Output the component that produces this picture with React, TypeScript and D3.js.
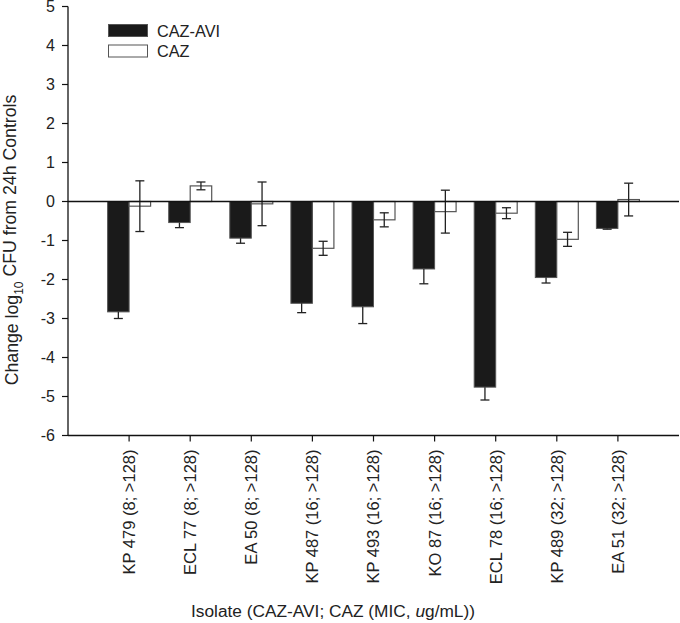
import React from "react";
import * as d3 from "d3";

const categories = [
  "KP 479 (8; >128)",
  "ECL 77 (8; >128)",
  "EA 50 (8; >128)",
  "KP 487 (16; >128)",
  "KP 493 (16; >128)",
  "KO 87 (16; >128)",
  "ECL 78 (16; >128)",
  "KP 489 (32; >128)",
  "EA 51 (32; >128)",
];
const cazAvi = [-2.83, -0.54, -0.94, -2.61, -2.7, -1.73, -4.76, -1.95, -0.69];
const cazAviErr = [0.17, 0.13, 0.13, 0.24, 0.43, 0.38, 0.33, 0.14, 0.02];
const caz = [-0.12, 0.4, -0.06, -1.2, -0.47, -0.26, -0.3, -0.97, 0.05];
const cazErr = [0.65, 0.1, 0.56, 0.18, 0.18, 0.55, 0.14, 0.18, 0.42];
const yTicks = [5, 4, 3, 2, 1, 0, -1, -2, -3, -4, -5, -6];

const W = 680;
const H = 623;
const left = 68;
const right = 679;
const top = 6.5;
const bottom = 435.5;
const font = "'Liberation Sans', Arial, sans-serif";

export default function App() {
  const y = d3.scaleLinear().domain([-6, 5]).range([bottom, top]);
  const x = d3.scaleLinear().domain([0, categories.length + 1]).range([left, right]);
  const bw = 21.5;
  const cap = 4.5;
  const ink = "#222";

  return (
    <svg
      width={W}
      height={H}
      style={{ position: "absolute", left: 0, top: 0, background: "#fff" }}
      fontFamily={font}
    >
      {/* bars */}
      {categories.map((c, i) => {
        const cx = x(i + 1);
        const v1 = cazAvi[i];
        const v2 = caz[i];
        const y0 = y(0);
        const e1 = v1 < 0 ? v1 - cazAviErr[i] : v1 + cazAviErr[i];
        return (
          <g key={c}>
            <rect
              x={cx - bw}
              y={Math.min(y0, y(v1))}
              width={bw}
              height={Math.abs(y(v1) - y0)}
              fill="#1a1a1a"
              stroke="#555"
              strokeWidth={1}
            />
            <line x1={cx - bw / 2} x2={cx - bw / 2} y1={y(v1)} y2={y(e1)} stroke={ink} strokeWidth={1.3} />
            <line x1={cx - bw / 2 - cap} x2={cx - bw / 2 + cap} y1={y(e1)} y2={y(e1)} stroke={ink} strokeWidth={1.3} />
            <rect
              x={cx}
              y={Math.min(y0, y(v2))}
              width={bw}
              height={Math.abs(y(v2) - y0)}
              fill="#fff"
              stroke="#555"
              strokeWidth={1.2}
            />
            <line
              x1={cx + bw / 2}
              x2={cx + bw / 2}
              y1={y(v2 + cazErr[i])}
              y2={y(v2 - cazErr[i])}
              stroke={ink}
              strokeWidth={1.3}
            />
            {[v2 + cazErr[i], v2 - cazErr[i]].map((ev, k) => (
              <line
                key={k}
                x1={cx + bw / 2 - cap}
                x2={cx + bw / 2 + cap}
                y1={y(ev)}
                y2={y(ev)}
                stroke={ink}
                strokeWidth={1.3}
              />
            ))}
          </g>
        );
      })}

      {/* zero line */}
      <line x1={left} x2={right} y1={y(0)} y2={y(0)} stroke="#111" strokeWidth={1.3} />

      {/* y axis */}
      <line x1={left} x2={left} y1={top} y2={bottom} stroke="#111" strokeWidth={1.3} />
      {yTicks.map((t) => (
        <g key={t}>
          <line x1={left - 6} x2={left} y1={y(t)} y2={y(t)} stroke="#111" strokeWidth={1.2} />
          <text x={left - 13} y={y(t)} dy="0.36em" textAnchor="end" fontSize={16} fill={ink}>
            {t}
          </text>
        </g>
      ))}
      <text
        transform={`translate(12, 240) rotate(-90)`}
        textAnchor="middle"
        fontSize={17.7}
        fill={ink}
        dy="0.36em"
      >
        Change log
        <tspan fontSize={12} dy="0.4em">10</tspan>
        <tspan dy="-0.4em"> CFU from 24h Controls</tspan>
      </text>

      {/* x axis */}
      <line x1={left} x2={right} y1={bottom} y2={bottom} stroke="#111" strokeWidth={1.3} />
      {categories.map((c, i) => (
        <g key={c}>
          <line x1={x(i + 1)} x2={x(i + 1)} y1={bottom} y2={bottom + 6} stroke="#111" strokeWidth={1.2} />
          <text
            transform={`translate(${x(i + 1)}, ${bottom + 14}) rotate(-90)`}
            textAnchor="end"
            dy="0.36em"
            fontSize={16.5}
            fill={ink}
          >
            {c}
          </text>
        </g>
      ))}
      <text x={333} y={617} textAnchor="middle" fontSize={17.3} fill={ink}>
        Isolate (CAZ-AVI; CAZ (MIC, <tspan fontStyle="italic">u</tspan>g/mL))
      </text>

      {/* legend */}
      <rect x={108.5} y={24.5} width={39} height={12} fill="#1a1a1a" stroke="#555" />
      <text x={157} y={36.5} fontSize={16.3} fill={ink}>CAZ-AVI</text>
      <rect x={108.5} y={45} width={39} height={12} fill="#fff" stroke="#555" />
      <text x={157} y={56.5} fontSize={16.3} fill={ink}>CAZ</text>
    </svg>
  );
}
